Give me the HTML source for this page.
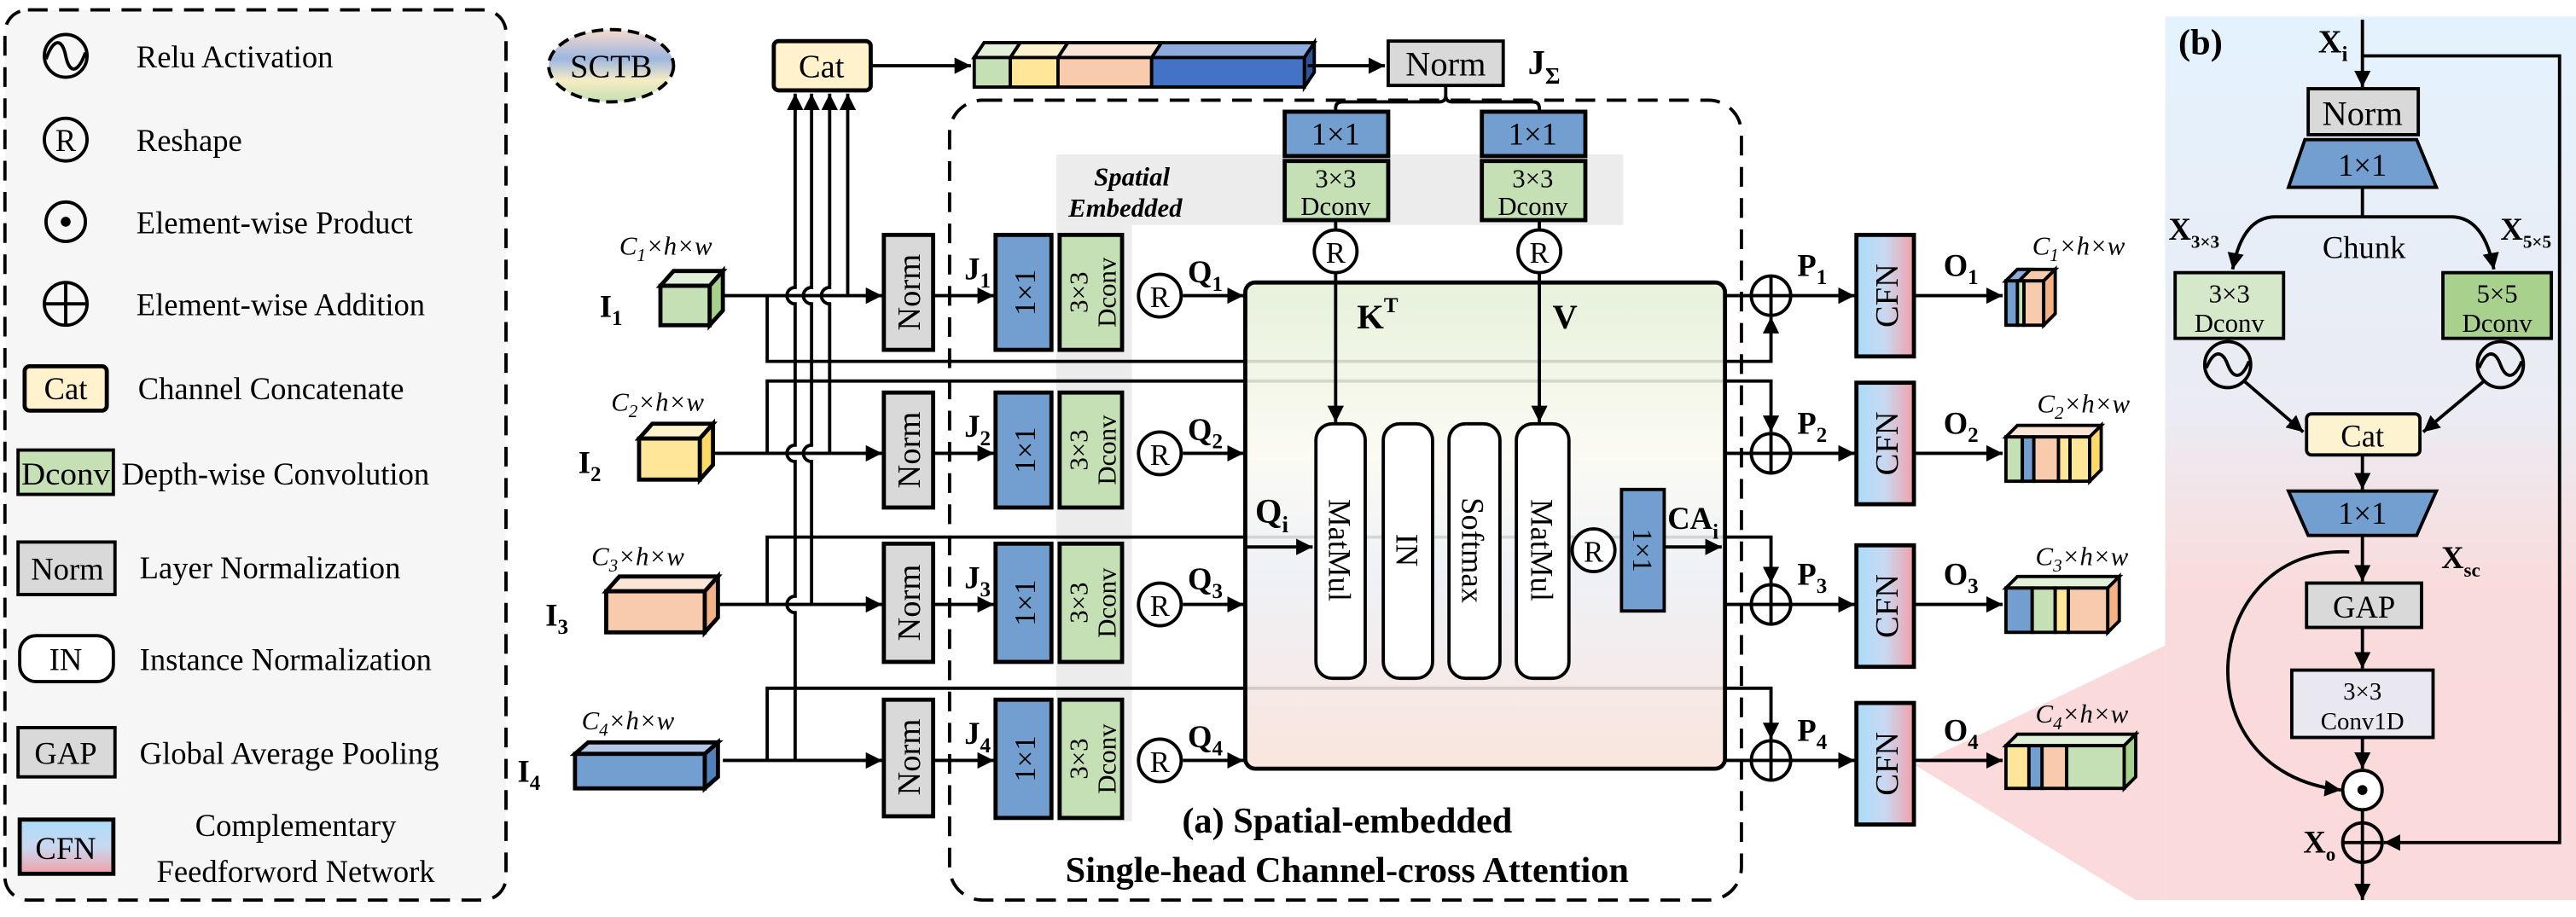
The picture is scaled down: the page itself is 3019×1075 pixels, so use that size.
<!DOCTYPE html>
<html><head><meta charset="utf-8"><style>
html,body{margin:0;padding:0;background:#fff;}
svg{display:block;font-family:"Liberation Serif","Times New Roman",serif;}
svg text{font-family:"Liberation Serif","Times New Roman",serif;fill:#000;}
</style></head><body>
<svg width="3019" height="1075" viewBox="0 0 1568 558.3" xmlns="http://www.w3.org/2000/svg" font-family="Liberation Serif, serif">
<defs>
<marker id="ar" viewBox="0 0 10 10" refX="10" refY="5" markerWidth="10" markerHeight="10" markerUnits="userSpaceOnUse" orient="auto"><path d="M0,0 L10,5 L0,10 z" fill="#000"/></marker>
<linearGradient id="cfn" x1="0" y1="0" x2="1" y2="0"><stop offset="0" stop-color="#a9dcfb"/><stop offset="0.5" stop-color="#c9d8f0"/><stop offset="1" stop-color="#f1a0a8"/></linearGradient>
<linearGradient id="cfnv" x1="0" y1="0" x2="0" y2="1"><stop offset="0" stop-color="#a9dcfb"/><stop offset="0.5" stop-color="#c9d8f0"/><stop offset="1" stop-color="#f1a0a8"/></linearGradient>
<linearGradient id="big" x1="0" y1="0" x2="0" y2="1"><stop offset="0" stop-color="#e3efd6"/><stop offset="0.35" stop-color="#fbfaf1"/><stop offset="0.6" stop-color="#eceff6"/><stop offset="1" stop-color="#f9e2d8"/></linearGradient>
<linearGradient id="pb" x1="0" y1="0" x2="0" y2="1"><stop offset="0" stop-color="#e4f2fd"/><stop offset="0.45" stop-color="#ebebf3"/><stop offset="0.65" stop-color="#fadbdb"/><stop offset="1" stop-color="#fadada"/></linearGradient>
<linearGradient id="sctb" x1="0" y1="0" x2="0" y2="1"><stop offset="0" stop-color="#f6dccc"/><stop offset="0.4" stop-color="#9db6e0"/><stop offset="0.7" stop-color="#f5ecc4"/><stop offset="1" stop-color="#c5e0b4"/></linearGradient>
</defs>

<!-- Legend -->
<rect x="3" y="6" width="305" height="542" rx="14" fill="#f6f6f6" stroke="#000" stroke-width="2" stroke-dasharray="12,7"/>
<g stroke="#000" stroke-width="2" fill="none">
<circle cx="40" cy="34" r="13"/><path d="M28,36 C33,22 38,24 40,34 C42,44 47,46 52,32"/>
<circle cx="40" cy="85" r="13"/>
<circle cx="40" cy="135" r="12"/>
<circle cx="40" cy="185" r="13"/><path d="M27,185 H53 M40,172 V198"/>
</g>
<circle cx="40" cy="135" r="3" fill="#000"/>
<text x="40" y="92" font-size="19" text-anchor="middle">R</text>
<rect x="15" y="223" width="50" height="27" rx="3" fill="#fff2cc" stroke="#000" stroke-width="2.5"/>
<text x="40" y="243" font-size="19" text-anchor="middle">Cat</text>
<rect x="11" y="274" width="58" height="27" fill="#c5e0b4" stroke="#000" stroke-width="2"/>
<text x="40" y="295" font-size="19" text-anchor="middle" textLength="54" lengthAdjust="spacingAndGlyphs">Dconv</text>
<rect x="11" y="330" width="59" height="32" fill="#d9d9d9" stroke="#000" stroke-width="2"/>
<text x="41" y="353" font-size="19" text-anchor="middle">Norm</text>
<rect x="12" y="387" width="57" height="28" rx="10" fill="#fff" stroke="#000" stroke-width="2"/>
<text x="40" y="408" font-size="19" text-anchor="middle">IN</text>
<rect x="11" y="443" width="59" height="30" fill="#d9d9d9" stroke="#000" stroke-width="2"/>
<text x="40" y="465" font-size="19" text-anchor="middle">GAP</text>
<rect x="12" y="499" width="57" height="33" fill="url(#cfnv)" stroke="#000" stroke-width="2.5"/>
<text x="40" y="523" font-size="19" text-anchor="middle">CFN</text>
<g font-size="19">
<text x="83" y="41">Relu Activation</text>
<text x="83" y="92">Reshape</text>
<text x="83" y="142">Element-wise Product</text>
<text x="83" y="192">Element-wise Addition</text>
<text x="84" y="243">Channel Concatenate</text>
<text x="74" y="295">Depth-wise Convolution</text>
<text x="85" y="352">Layer Normalization</text>
<text x="85" y="408">Instance Normalization</text>
<text x="85" y="465">Global Average Pooling</text>
<text x="180" y="509" text-anchor="middle">Complementary</text>
<text x="180" y="537" text-anchor="middle">Feedforword Network</text>
</g>

<!-- SCTB -->
<ellipse cx="372" cy="40" rx="38" ry="22" fill="url(#sctb)" stroke="#000" stroke-width="2" stroke-dasharray="7,4"/>
<text x="372" y="47" font-size="20" text-anchor="middle">SCTB</text>

<!-- Dashed module (a) -->
<rect x="578" y="61" width="482" height="487" rx="20" fill="none" stroke="#000" stroke-width="2" stroke-dasharray="12,7"/>
<rect x="643" y="94" width="345" height="43" fill="#ececec"/>
<rect x="643" y="137" width="46" height="363" fill="#ececec"/>

<!-- pink projection -->
<polygon points="1166,466 1318,393 1318,548 1300,548" fill="#fadada"/>

<!-- skip lines -->
<g stroke="#000" stroke-width="2" fill="none">
<path d="M467,180 V220 H1078 V193" marker-end="url(#ar)"/>
<path d="M467,276 V232 H1078 V263" marker-end="url(#ar)"/>
<path d="M467,368 V327 H1078 V355" marker-end="url(#ar)"/>
<path d="M467,463 V419 H1078 V450" marker-end="url(#ar)"/>
</g>

<rect x="758" y="172" width="292" height="296" rx="6" fill="url(#big)" fill-opacity="0.88" stroke="#000" stroke-width="2.5"/>

<!-- Cat and concat bar -->
<rect x="471" y="25" width="59" height="30" rx="3" fill="#fff2cc" stroke="#000" stroke-width="2.5"/>
<text x="500" y="47" font-size="20" text-anchor="middle">Cat</text>
<line x1="530" y1="40" x2="591" y2="40" stroke="#000" stroke-width="2" marker-end="url(#ar)"/>
<g stroke="#000" stroke-width="2">
<polygon points="593,35 599,26 800,26 794,35" fill="#8faadc"/>
<polygon points="593,35 599,26 621,26 615,35" fill="#e2efd9"/>
<polygon points="615,35 621,26 650,26 644,35" fill="#fff2cc"/>
<polygon points="644,35 650,26 707,26 701,35" fill="#fbe5d6"/>
<rect x="593" y="35" width="22" height="18" fill="#c5e0b4"/>
<rect x="615" y="35" width="29" height="18" fill="#ffe699"/>
<rect x="644" y="35" width="57" height="18" fill="#f8cbad"/>
<rect x="701" y="35" width="93" height="18" fill="#4472c4"/>
<polygon points="794,35 800,26 800,44 794,53" fill="#2f5597"/>
</g>
<line x1="796" y1="40" x2="843" y2="40" stroke="#000" stroke-width="2" marker-end="url(#ar)"/>
<rect x="845" y="25" width="70" height="27" fill="#d9d9d9" stroke="#000" stroke-width="2"/>
<text x="880" y="46" font-size="21" text-anchor="middle">Norm</text>
<text x="930" y="45" font-size="21" font-weight="bold">J<tspan font-size="14" dy="6">Σ</tspan></text>
<path d="M880,52 V58 Q880,62 876,62 H817 Q813,62 813,66 V68 M880,58 Q880,62 884,62 H933 Q937,62 937,66 V68" stroke="#000" stroke-width="2" fill="none"/>

<!-- K, V branch -->
<g stroke="#000" stroke-width="2.5">
<rect x="782" y="68" width="63" height="27" fill="#729fcf"/>
<rect x="902" y="68" width="63" height="27" fill="#729fcf"/>
<rect x="782" y="98" width="63" height="36" fill="#c5e0b4"/>
<rect x="902" y="98" width="63" height="36" fill="#c5e0b4"/>
</g>
<g font-size="19" text-anchor="middle">
<text x="813" y="88">1×1</text><text x="933" y="88">1×1</text>
<text x="813" y="114" font-size="16">3×3</text><text x="813" y="131" font-size="16">Dconv</text>
<text x="933" y="114" font-size="16">3×3</text><text x="933" y="131" font-size="16">Dconv</text>
</g>
<text x="689" y="113" font-size="16" font-style="italic" font-weight="bold" text-anchor="middle">Spatial</text>
<text x="685" y="132" font-size="16" font-style="italic" font-weight="bold" text-anchor="middle">Embedded</text>
<g stroke="#000" stroke-width="2" fill="#fff">
<line x1="813" y1="134" x2="813" y2="140"/><line x1="937" y1="134" x2="937" y2="140"/>
<circle cx="813" cy="153" r="13"/><circle cx="937" cy="153" r="13"/>
</g>
<text x="813" y="160" font-size="18" text-anchor="middle">R</text>
<text x="937" y="160" font-size="18" text-anchor="middle">R</text>
<line x1="813" y1="166" x2="813" y2="257" stroke="#000" stroke-width="2" marker-end="url(#ar)"/>
<line x1="937" y1="166" x2="937" y2="257" stroke="#000" stroke-width="2" marker-end="url(#ar)"/>
<text x="826" y="200" font-size="21" font-weight="bold">K<tspan font-size="13" dy="-10">T</tspan></text>
<text x="945" y="200" font-size="21" font-weight="bold">V</text>

<!-- attention inner -->
<g stroke="#000" stroke-width="2" fill="#fff">
<rect x="801" y="258" width="30" height="155" rx="10"/>
<rect x="842" y="258" width="30" height="155" rx="10"/>
<rect x="882" y="258" width="31" height="155" rx="10"/>
<rect x="923" y="258" width="32" height="155" rx="10"/>
</g>
<g font-size="19" text-anchor="middle">
<text transform="translate(816,335) rotate(90)" y="7">MatMul</text>
<text transform="translate(857,335) rotate(90)" y="7">IN</text>
<text transform="translate(897,335) rotate(90)" y="7">Softmax</text>
<text transform="translate(939,335) rotate(90)" y="7">MatMul</text>
</g>
<line x1="758" y1="333" x2="799" y2="333" stroke="#000" stroke-width="2" marker-end="url(#ar)"/>
<text x="764" y="318" font-size="21" font-weight="bold">Q<tspan font-size="14" dy="6">i</tspan></text>
<circle cx="970" cy="335" r="13" fill="#fff" stroke="#000" stroke-width="2"/>
<text x="970" y="342" font-size="18" text-anchor="middle">R</text>
<rect x="987" y="298" width="26" height="74" fill="#729fcf" stroke="#000" stroke-width="2"/>
<text transform="translate(1000,335) rotate(90)" y="6" font-size="17" text-anchor="middle">1×1</text>
<line x1="1013" y1="333" x2="1048" y2="333" stroke="#000" stroke-width="2" marker-end="url(#ar)"/>
<text x="1015" y="322" font-size="19" font-weight="bold">CA<tspan font-size="13" dy="6">i</tspan></text>

<!-- vertical lines to Cat with hops -->
<g stroke="#000" stroke-width="2" fill="none">
<path d="M516,180 V57" marker-end="url(#ar)"/>
<path d="M505,276 V185 A5,5 0 0 1 505,175 V57" marker-end="url(#ar)"/>
<path d="M494,368 V281 A5,5 0 0 1 494,271 V185 A5,5 0 0 1 494,175 V57" marker-end="url(#ar)"/>
<path d="M484,463 V373 A5,5 0 0 1 484,363 V281 A5,5 0 0 1 484,271 V185 A5,5 0 0 1 484,175 V57" marker-end="url(#ar)"/>
</g>

<!-- rows -->
<g stroke="#000" stroke-width="2">
<line x1="440" y1="180" x2="537" y2="180" marker-end="url(#ar)"/>
<line x1="435" y1="276" x2="537" y2="276" marker-end="url(#ar)"/>
<line x1="437" y1="368" x2="537" y2="368" marker-end="url(#ar)"/>
<line x1="440" y1="463" x2="537" y2="463" marker-end="url(#ar)"/>
<line x1="568" y1="180" x2="605" y2="180" marker-end="url(#ar)"/>
<line x1="568" y1="276" x2="605" y2="276" marker-end="url(#ar)"/>
<line x1="568" y1="368" x2="605" y2="368" marker-end="url(#ar)"/>
<line x1="568" y1="463" x2="605" y2="463" marker-end="url(#ar)"/>
<line x1="720" y1="180" x2="757" y2="180" marker-end="url(#ar)"/>
<line x1="720" y1="276" x2="757" y2="276" marker-end="url(#ar)"/>
<line x1="720" y1="368" x2="757" y2="368" marker-end="url(#ar)"/>
<line x1="720" y1="463" x2="757" y2="463" marker-end="url(#ar)"/>
<line x1="1050" y1="180" x2="1066" y2="180"/>
<line x1="1050" y1="276" x2="1066" y2="276"/>
<line x1="1050" y1="368" x2="1066" y2="368"/>
<line x1="1050" y1="463" x2="1066" y2="463"/>
<line x1="1090" y1="180" x2="1129" y2="180" marker-end="url(#ar)"/>
<line x1="1090" y1="276" x2="1129" y2="276" marker-end="url(#ar)"/>
<line x1="1090" y1="368" x2="1129" y2="368" marker-end="url(#ar)"/>
<line x1="1090" y1="463" x2="1129" y2="463" marker-end="url(#ar)"/>
<line x1="1165" y1="180" x2="1219" y2="180" marker-end="url(#ar)"/>
<line x1="1165" y1="276" x2="1219" y2="276" marker-end="url(#ar)"/>
<line x1="1165" y1="368" x2="1219" y2="368" marker-end="url(#ar)"/>
<line x1="1165" y1="463" x2="1219" y2="463" marker-end="url(#ar)"/>
</g>

<g stroke="#000" stroke-width="2.5">
<rect x="538" y="143" width="30" height="70" fill="#d9d9d9"/>
<rect x="538" y="239" width="30" height="70" fill="#d9d9d9"/>
<rect x="538" y="331" width="30" height="72" fill="#d9d9d9"/>
<rect x="538" y="426" width="30" height="71" fill="#d9d9d9"/>
<rect x="606" y="143" width="34" height="70" fill="#729fcf"/>
<rect x="606" y="239" width="34" height="70" fill="#729fcf"/>
<rect x="606" y="331" width="34" height="72" fill="#729fcf"/>
<rect x="606" y="426" width="34" height="72" fill="#729fcf"/>
<rect x="645" y="143" width="38" height="70" fill="#c5e0b4"/>
<rect x="645" y="239" width="38" height="70" fill="#c5e0b4"/>
<rect x="645" y="331" width="38" height="72" fill="#c5e0b4"/>
<rect x="645" y="426" width="38" height="72" fill="#c5e0b4"/>
</g>
<g stroke="#000" stroke-width="2" fill="#fff">
<circle cx="706" cy="180" r="13"/><circle cx="706" cy="276" r="13"/><circle cx="706" cy="368" r="13"/><circle cx="706" cy="463" r="13"/>
</g>
<g font-size="18" text-anchor="middle">
<text x="706" y="187">R</text><text x="706" y="283">R</text><text x="706" y="375">R</text><text x="706" y="470">R</text>
</g>
<g font-size="20" text-anchor="middle">
<text transform="translate(553,178) rotate(-90)" y="7">Norm</text>
<text transform="translate(553,274) rotate(-90)" y="7">Norm</text>
<text transform="translate(553,367) rotate(-90)" y="7">Norm</text>
<text transform="translate(553,461) rotate(-90)" y="7">Norm</text>
<text transform="translate(623,178) rotate(-90)" y="7" font-size="18">1×1</text>
<text transform="translate(623,274) rotate(-90)" y="7" font-size="18">1×1</text>
<text transform="translate(623,367) rotate(-90)" y="7" font-size="18">1×1</text>
<text transform="translate(623,462) rotate(-90)" y="7" font-size="18">1×1</text>
</g>
<g font-size="16" text-anchor="middle">
<text transform="translate(664,178) rotate(-90)"><tspan x="0" y="-2">3×3</tspan><tspan x="0" y="15">Dconv</tspan></text>
<text transform="translate(664,274) rotate(-90)"><tspan x="0" y="-2">3×3</tspan><tspan x="0" y="15">Dconv</tspan></text>
<text transform="translate(664,367) rotate(-90)"><tspan x="0" y="-2">3×3</tspan><tspan x="0" y="15">Dconv</tspan></text>
<text transform="translate(664,462) rotate(-90)"><tspan x="0" y="-2">3×3</tspan><tspan x="0" y="15">Dconv</tspan></text>
</g>
<g font-size="19" font-weight="bold">
<text x="587" y="170">J<tspan font-size="13" dy="5">1</tspan></text>
<text x="587" y="266">J<tspan font-size="13" dy="5">2</tspan></text>
<text x="587" y="358">J<tspan font-size="13" dy="5">3</tspan></text>
<text x="587" y="453">J<tspan font-size="13" dy="5">4</tspan></text>
<text x="723" y="172">Q<tspan font-size="13" dy="5">1</tspan></text>
<text x="723" y="268">Q<tspan font-size="13" dy="5">2</tspan></text>
<text x="723" y="359">Q<tspan font-size="13" dy="5">3</tspan></text>
<text x="723" y="455">Q<tspan font-size="13" dy="5">4</tspan></text>
<text x="1094" y="168">P<tspan font-size="13" dy="5">1</tspan></text>
<text x="1094" y="264">P<tspan font-size="13" dy="5">2</tspan></text>
<text x="1094" y="356">P<tspan font-size="13" dy="5">3</tspan></text>
<text x="1094" y="451">P<tspan font-size="13" dy="5">4</tspan></text>
<text x="1183" y="168">O<tspan font-size="13" dy="5">1</tspan></text>
<text x="1183" y="264">O<tspan font-size="13" dy="5">2</tspan></text>
<text x="1183" y="356">O<tspan font-size="13" dy="5">3</tspan></text>
<text x="1183" y="451">O<tspan font-size="13" dy="5">4</tspan></text>
</g>
<g stroke="#000" stroke-width="2" fill="#fff">
<circle cx="1078" cy="180" r="12"/><path d="M1066,180 H1090 M1078,168 V192"/>
<circle cx="1078" cy="276" r="12"/><path d="M1066,276 H1090 M1078,264 V288"/>
<circle cx="1078" cy="368" r="12"/><path d="M1066,368 H1090 M1078,356 V380"/>
<circle cx="1078" cy="463" r="12"/><path d="M1066,463 H1090 M1078,451 V475"/>
</g>

<g stroke="#000" stroke-width="2.5">
<rect x="1130" y="143" width="35" height="74" fill="url(#cfn)"/>
<rect x="1130" y="233" width="35" height="74" fill="url(#cfn)"/>
<rect x="1130" y="332" width="35" height="74" fill="url(#cfn)"/>
<rect x="1130" y="428" width="35" height="74" fill="url(#cfn)"/>
</g>
<g font-size="20" text-anchor="middle">
<text transform="translate(1148,180) rotate(-90)" y="7">CFN</text>
<text transform="translate(1148,270) rotate(-90)" y="7">CFN</text>
<text transform="translate(1148,369) rotate(-90)" y="7">CFN</text>
<text transform="translate(1148,465) rotate(-90)" y="7">CFN</text>
</g>

<!-- input cubes -->
<g stroke="#000" stroke-width="2.5">
<polygon points="402,174 410,165 440,165 432,174" fill="#e2efd9"/>
<rect x="402" y="174" width="30" height="24" fill="#c5e0b4"/>
<polygon points="432,174 440,165 440,189 432,198" fill="#a9d18e"/>
<polygon points="389,267 397,258 434,258 426,267" fill="#fff2cc"/>
<rect x="389" y="267" width="37" height="25" fill="#ffe699"/>
<polygon points="426,267 434,258 434,283 426,292" fill="#ffd966"/>
<polygon points="369,360 377,351 437,351 429,360" fill="#fbe5d6"/>
<rect x="369" y="360" width="60" height="25" fill="#f8cbad"/>
<polygon points="429,360 437,351 437,376 429,385" fill="#f4b183"/>
<polygon points="350,459 358,452 437,452 429,459" fill="#b4c7e7"/>
<rect x="350" y="459" width="79" height="21" fill="#729fcf"/>
<polygon points="429,459 437,452 437,473 429,480" fill="#4f81bd"/>
</g>
<g font-size="19" font-weight="bold">
<text x="365" y="193">I<tspan font-size="13" dy="5">1</tspan></text>
<text x="352" y="288">I<tspan font-size="13" dy="5">2</tspan></text>
<text x="332" y="381">I<tspan font-size="13" dy="5">3</tspan></text>
<text x="315" y="476">I<tspan font-size="13" dy="5">4</tspan></text>
</g>
<g font-size="16" font-style="italic">
<text x="377" y="155">C<tspan font-size="11" dy="4">1</tspan><tspan dy="-4">×h×w</tspan></text>
<text x="372" y="250">C<tspan font-size="11" dy="4">2</tspan><tspan dy="-4">×h×w</tspan></text>
<text x="360" y="344">C<tspan font-size="11" dy="4">3</tspan><tspan dy="-4">×h×w</tspan></text>
<text x="354" y="444">C<tspan font-size="11" dy="4">4</tspan><tspan dy="-4">×h×w</tspan></text>
<text x="1237" y="155">C<tspan font-size="11" dy="4">1</tspan><tspan dy="-4">×h×w</tspan></text>
<text x="1240" y="251">C<tspan font-size="11" dy="4">2</tspan><tspan dy="-4">×h×w</tspan></text>
<text x="1239" y="344">C<tspan font-size="11" dy="4">3</tspan><tspan dy="-4">×h×w</tspan></text>
<text x="1239" y="440">C<tspan font-size="11" dy="4">4</tspan><tspan dy="-4">×h×w</tspan></text>
</g>

<!-- output cubes -->
<g stroke="#000" stroke-width="2">
<polygon points="1221,171 1228,164 1251,164 1244,171" fill="#f8cbad"/>
<polygon points="1221,171 1228,164 1236,164 1229,171" fill="#8faadc"/>
<rect x="1221" y="171" width="7" height="27" fill="#729fcf"/>
<rect x="1228" y="171" width="4" height="27" fill="#c5e0b4"/>
<rect x="1232" y="171" width="12" height="27" fill="#f8cbad"/>
<polygon points="1244,171 1251,164 1251,191 1244,198" fill="#f4b183"/>
<polygon points="1221,266 1228,259 1279,259 1272,266" fill="#fbe5d6"/>
<rect x="1221" y="266" width="10" height="27" fill="#c5e0b4"/>
<rect x="1231" y="266" width="7" height="27" fill="#729fcf"/>
<rect x="1238" y="266" width="15" height="27" fill="#f8cbad"/>
<rect x="1253" y="266" width="7" height="27" fill="#ffe699"/>
<rect x="1260" y="266" width="12" height="27" fill="#ffe699"/>
<polygon points="1272,266 1279,259 1279,286 1272,293" fill="#ffd966"/>
<polygon points="1221,358 1228,351 1290,351 1283,358" fill="#e2efd9"/>
<rect x="1221" y="358" width="16" height="27" fill="#729fcf"/>
<rect x="1237" y="358" width="14" height="27" fill="#c5e0b4"/>
<rect x="1251" y="358" width="8" height="27" fill="#ffe699"/>
<rect x="1259" y="358" width="24" height="27" fill="#f8cbad"/>
<polygon points="1283,358 1290,351 1290,378 1283,385" fill="#f4b183"/>
<polygon points="1221,454 1228,447 1300,447 1293,454" fill="#e2efd9"/>
<rect x="1221" y="454" width="14" height="26" fill="#ffe699"/>
<rect x="1235" y="454" width="8" height="26" fill="#729fcf"/>
<rect x="1243" y="454" width="15" height="26" fill="#f8cbad"/>
<rect x="1258" y="454" width="35" height="26" fill="#c5e0b4"/>
<polygon points="1293,454 1300,447 1300,473 1293,480" fill="#a9d18e"/>
</g>

<text x="820" y="507" font-size="22" font-weight="bold" text-anchor="middle">(a) Spatial-embedded</text>
<text x="820" y="537" font-size="22" font-weight="bold" text-anchor="middle">Single-head Channel-cross Attention</text>

<!-- Panel (b) -->
<rect x="1318" y="10" width="250" height="538" fill="url(#pb)"/>
<text x="1326" y="33" font-size="22" font-weight="bold">(b)</text>
<text x="1411" y="32" font-size="20" font-weight="bold">X<tspan font-size="13" dy="5">i</tspan></text>
<g stroke="#000" stroke-width="2" fill="none">
<line x1="1438" y1="12" x2="1438" y2="53" marker-end="url(#ar)"/>
<path d="M1438,34 H1558 V513 H1451" marker-end="url(#ar)"/>
<line x1="1438" y1="114" x2="1438" y2="132"/>
<path d="M1438,132 H1385 Q1365,132 1359,164" marker-end="url(#ar)"/>
<path d="M1438,132 H1492 Q1512,132 1518,164" marker-end="url(#ar)"/>
<line x1="1366" y1="232" x2="1402" y2="263" marker-end="url(#ar)"/>
<line x1="1512" y1="232" x2="1475" y2="263" marker-end="url(#ar)"/>
<line x1="1438" y1="277" x2="1438" y2="298" marker-end="url(#ar)"/>
<line x1="1438" y1="326" x2="1438" y2="354" marker-end="url(#ar)"/>
<line x1="1438" y1="382" x2="1438" y2="407" marker-end="url(#ar)"/>
<line x1="1438" y1="449" x2="1438" y2="468" marker-end="url(#ar)"/>
<line x1="1438" y1="493" x2="1438" y2="501"/>
<line x1="1438" y1="525" x2="1438" y2="548" marker-end="url(#ar)"/>
<path d="M1430,336 C1340,332 1325,470 1425,481" marker-end="url(#ar)"/>
</g>
<rect x="1405" y="54" width="67" height="28" fill="#d9d9d9" stroke="#000" stroke-width="2"/>
<text x="1438" y="76" font-size="21" text-anchor="middle">Norm</text>
<polygon points="1403,85 1471,85 1483,114 1393,114" fill="#729fcf" stroke="#000" stroke-width="2"/>
<text x="1438" y="107" font-size="19" text-anchor="middle">1×1</text>
<text x="1439" y="157" font-size="19" text-anchor="middle">Chunk</text>
<text x="1320" y="146" font-size="19" font-weight="bold">X<tspan font-size="11" dy="5">3×3</tspan></text>
<text x="1522" y="146" font-size="19" font-weight="bold">X<tspan font-size="11" dy="5">5×5</tspan></text>
<rect x="1324" y="166" width="66" height="40" fill="#d5e8c9" stroke="#000" stroke-width="2"/>
<rect x="1487" y="166" width="66" height="40" fill="#a9d18e" stroke="#000" stroke-width="2"/>
<g font-size="16" text-anchor="middle">
<text x="1357" y="184">3×3</text><text x="1357" y="202">Dconv</text>
<text x="1520" y="184">5×5</text><text x="1520" y="202">Dconv</text>
</g>
<g stroke="#000" stroke-width="2" fill="none">
<circle cx="1356" cy="222" r="14"/><path d="M1343,224 C1348,212 1353,214 1356,222 C1359,230 1364,232 1369,220"/>
<circle cx="1522" cy="222" r="14"/><path d="M1509,224 C1514,212 1519,214 1522,222 C1525,230 1530,232 1535,220"/>
</g>
<rect x="1404" y="252" width="69" height="25" rx="3" fill="#fdf3d0" stroke="#000" stroke-width="2"/>
<text x="1438" y="272" font-size="19" text-anchor="middle">Cat</text>
<polygon points="1393,299 1483,299 1471,326 1405,326" fill="#729fcf" stroke="#000" stroke-width="2"/>
<text x="1438" y="319" font-size="19" text-anchor="middle">1×1</text>
<text x="1486" y="346" font-size="19" font-weight="bold">X<tspan font-size="12" dy="5">sc</tspan></text>
<rect x="1404" y="355" width="70" height="27" fill="#d9d9d9" stroke="#000" stroke-width="2"/>
<text x="1439" y="376" font-size="19" text-anchor="middle">GAP</text>
<rect x="1395" y="408" width="86" height="41" fill="#e9e7ef" stroke="#000" stroke-width="2"/>
<text x="1438" y="426" font-size="15" text-anchor="middle">3×3</text>
<text x="1438" y="444" font-size="15" text-anchor="middle">Conv1D</text>
<circle cx="1438" cy="481" r="12" fill="#fff" stroke="#000" stroke-width="2"/>
<circle cx="1438" cy="481" r="3" fill="#000"/>
<circle cx="1438" cy="513" r="12" fill="none" stroke="#000" stroke-width="2"/>
<path d="M1426,513 H1450 M1438,501 V525" stroke="#000" stroke-width="2"/>
<text x="1402" y="519" font-size="19" font-weight="bold">X<tspan font-size="12" dy="5">o</tspan></text>
</svg>
</body></html>
